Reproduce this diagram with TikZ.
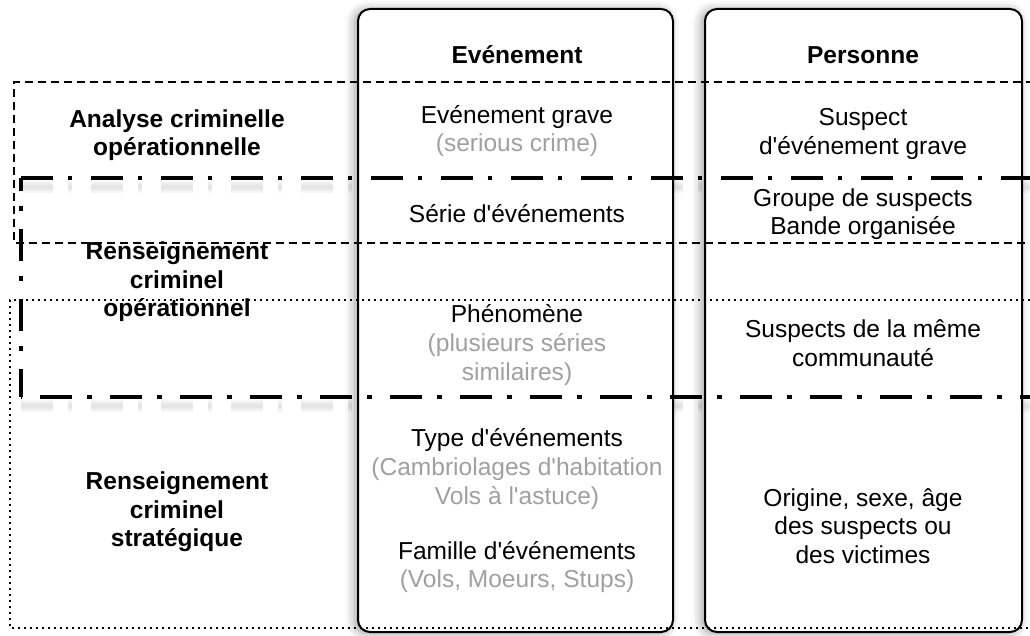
\documentclass[tikz,border=0pt]{standalone}
\usepackage{fontspec}
\setmainfont{Liberation Sans}[Ligatures=TeXOff]
\usetikzlibrary{shadows.blur}
\definecolor{softgray}{RGB}{160,160,160}
\newcommand{\soft}[1]{\textcolor{softgray}{#1}}
\begin{document}
\begin{tikzpicture}[x=0.75pt,y=-0.75pt,
  column/.style={draw=black, line width=1.5pt, fill=white, rounded corners=9pt,
    blur shadow={shadow xshift=-2.5pt, shadow yshift=-1pt, shadow blur radius=7pt, shadow opacity=40}},
  dashedband/.style={draw=black, line width=0.9pt, dash pattern=on 6pt off 3.75pt},
  dottedband/.style={draw=black, line width=1.1pt, dash pattern=on 1.3pt off 3.2pt},
  dashdotband/.style={draw=black, line width=2.6pt, dash pattern=on 24pt off 11pt on 3.5pt off 14pt},
  dashdotshade/.style={draw=black, line width=#1, opacity=0.035, dash pattern=on 24pt off 11pt on 3.5pt off 14pt},
  cell/.style={align=center, inner sep=0pt, font=\fontsize{18.4}{21.4}\selectfont},
  hdr/.style={cell, font=\fontsize{18.4}{21.4}\selectfont\bfseries},
  lbl/.style={hdr}
]
\useasboundingbox (0,0) rectangle (1030,635);
\clip (0,0) rectangle (1030,635);

% soft shadow under the heavy dash-dot band
\foreach \w in {3pt,6pt,9pt}{
  \draw[dashdotshade=\w] (21,187) -- (1060,187);
  \draw[dashdotshade=\w] (21,406) -- (1060,406);
}

% the two columns
\path[column] (358,9) rectangle (673,632);
\path[column] (705,9) rectangle (1022,632);

% analysis bands
\draw[dashedband] (1060,82) -- (14,82) -- (14,243) -- (1060,243);
\draw[dottedband] (1060,300) -- (10,300) -- (10,628) -- (1060,628);
\draw[dashdotband] (21,178) -- (1060,178);
\draw[dashdotband, dash phase=14pt] (21,178) -- (21,397);
\draw[dashdotband, dash phase=38pt] (21,397) -- (1060,397);

% column headers
\node[hdr] (hev) at (517,55) {Evénement};
\node[hdr] (hpe) at (863,55) {Personne};

% Evénement column
\node[cell] (ev1) at (517,131) {Evénement grave\\\soft{(serious crime)}};
\node[cell] (ev2) at (517,214) {Série d'événements};
\node[cell] (ev3) at (517,345) {Phénomène\\\soft{(plusieurs séries}\\\soft{similaires)}};
\node[cell] (ev4) at (517,469) {Type d'événements\\\soft{(Cambriolages d'habitation}\\\soft{Vols à l'astuce)}};
\node[cell] (ev5) at (517,567) {Famille d'événements\\\soft{(Vols, Moeurs, Stups)}};

% Personne column
\node[cell] (pe1) at (863,134) {Suspect\\d'événement grave};
\node[cell] (pe2) at (863,214) {Groupe de suspects\\Bande organisée};
\node[cell] (pe3) at (863,343) {Suspects de la même\\communauté};
\node[cell] (pe4) at (863,526) {Origine, sexe, âge\\des suspects ou\\des victimes};

% band labels
\node[lbl] (b1) at (177,135) {Analyse criminelle\\opérationnelle};
\node[lbl] (b2) at (177,282) {Renseignement\\criminel\\opérationnel};
\node[lbl] (b3) at (177,512) {Renseignement\\criminel\\stratégique};
\end{tikzpicture}
\end{document}
